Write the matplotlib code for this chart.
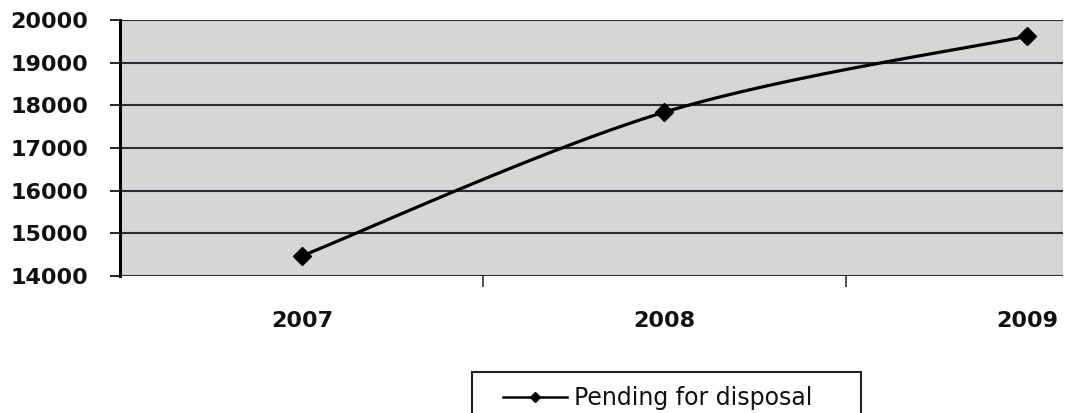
import numpy as np
import matplotlib
matplotlib.use("Agg")
import matplotlib.pyplot as plt
from matplotlib.lines import Line2D
from matplotlib.patches import Rectangle

years = ["2007", "2008", "2009"]
pending = [14470, 17840, 19620]
y_ticks = [14000, 15000, 16000, 17000, 18000, 19000, 20000]
series_name = "Pending for disposal"

W, H = 1071, 413
fig = plt.figure(figsize=(W / 100, H / 100), dpi=100)
fig.patch.set_facecolor("white")

left, right, top, bottom = 120, 1063, 20, 276
ax = fig.add_axes([left / W, 1 - bottom / H, (right - left) / W, (bottom - top) / H])
ax.set_facecolor("#d6d6d6")

x = np.arange(len(years), dtype=float)
y = np.array(pending, dtype=float)

# Excel-style smoothed line (Bezier through the data points)
def smooth(xp, yp, n=60):
    px = np.concatenate([[xp[0]], xp, [xp[-1]]])
    py = np.concatenate([[yp[0]], yp, [yp[-1]]])
    xs, ys = [], []
    for i in range(1, len(px) - 2):
        p0 = np.array([px[i - 1], py[i - 1]]); p1 = np.array([px[i], py[i]])
        p2 = np.array([px[i + 1], py[i + 1]]); p3 = np.array([px[i + 2], py[i + 2]])
        c1 = p1 + (p2 - p0) / 6.0
        c2 = p2 - (p3 - p1) / 6.0
        t = np.linspace(0, 1, n)[:, None]
        b = (1 - t) ** 3 * p1 + 3 * (1 - t) ** 2 * t * c1 + 3 * (1 - t) * t ** 2 * c2 + t ** 3 * p2
        xs.append(b[:, 0]); ys.append(b[:, 1])
    return np.concatenate(xs), np.concatenate(ys)

sx, sy = smooth(x, y)
ax.plot(sx, sy, color="black", lw=2.3, zorder=3)
ax.plot(x, y, linestyle="none", marker="D", markersize=9, color="black", zorder=4)

ax.set_xlim(-0.5014, 2.099)
ax.set_ylim(14000, 20000)
ax.set_yticks(y_ticks)
ax.set_yticklabels([str(v) for v in y_ticks], fontsize=16, fontweight="bold",
                   family="DejaVu Sans", color="#111111")
for v in y_ticks:
    ax.axhline(v, color="#2a2a3a", lw=1.5, zorder=1)

ax.set_xticks([0.5, 1.5])
ax.set_xticklabels(["", ""])
ax.tick_params(axis="x", direction="out", length=8, width=1.2, colors="#333333")
ax.tick_params(axis="y", direction="out", length=7, width=1.2, pad=16)

for i, yr in enumerate(years):
    ax.text(x[i], -0.135, yr, transform=ax.get_xaxis_transform(), ha="center", va="top",
            fontsize=16, fontweight="bold", family="DejaVu Sans", color="#111111")

for s in ["top", "right", "bottom"]:
    ax.spines[s].set_visible(False)
ax.spines["left"].set_linewidth(2.2)
ax.spines["left"].set_color("black")

# legend box (extends past the bottom edge, as in the reference)
fig.patches.append(Rectangle((472 / W, 1 - 425 / H), (861 - 472) / W, (425 - 372) / H,
                             transform=fig.transFigure, facecolor="white",
                             edgecolor="#222222", lw=1.5, zorder=0))
handle = Line2D([], [], color="black", lw=1.8, marker="D", markersize=5)
leg = fig.legend([handle], [series_name], loc="center left",
                 bbox_to_anchor=(503 / W, 1 - 398 / H), bbox_transform=fig.transFigure,
                 frameon=False, fontsize=17, handlelength=2.7,
                 borderpad=0, handletextpad=0.3, borderaxespad=0)
for t in leg.get_texts():
    t.set_family("DejaVu Sans")
    t.set_color("#111111")

fig.savefig("out.png", dpi=100)
